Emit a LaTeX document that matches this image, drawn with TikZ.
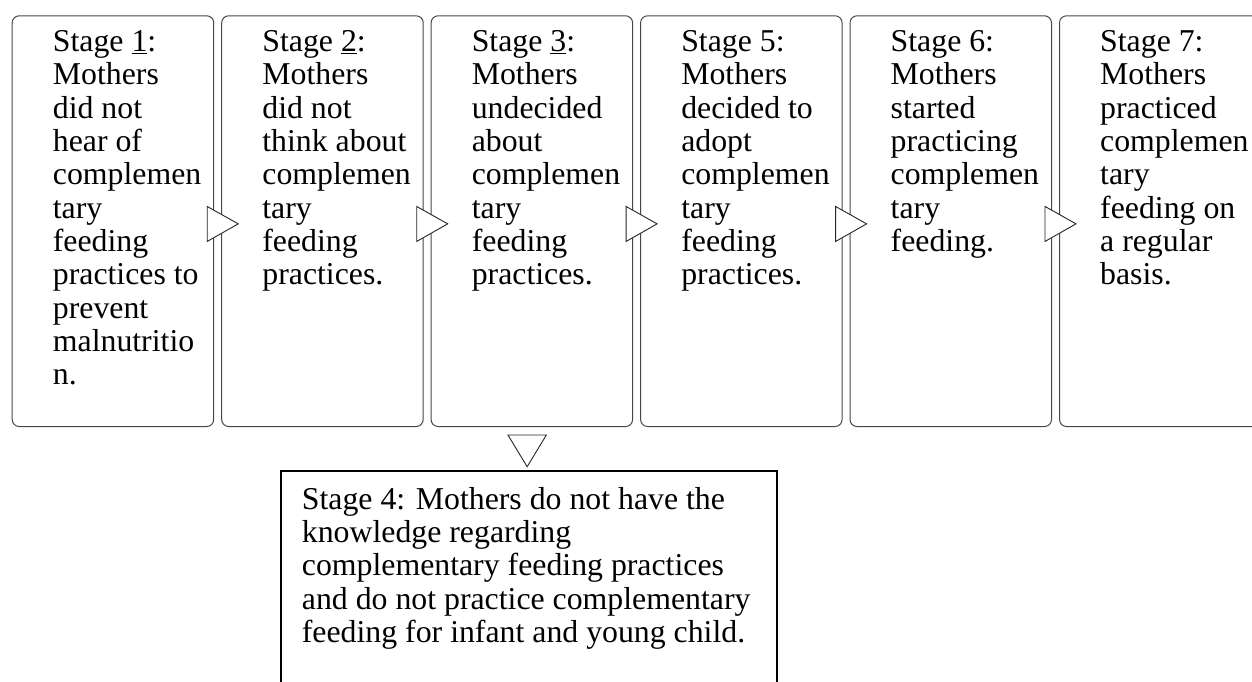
\documentclass[tikz,border=0pt]{standalone}
\usepackage{fontspec}
\setmainfont{Liberation Serif}
\usetikzlibrary{calc}
\tikzset{
  stagebox/.style={draw=black!72, line width=1pt, rounded corners=7pt, fill=white,
    minimum width=201.5pt, minimum height=410.7pt, inner sep=0pt, anchor=north west},
  stagetext/.style={anchor=north west, inner sep=0pt, align=left,
    font=\fontsize{31.8}{33.33}\selectfont},
  bottombox/.style={draw=black, line width=2pt, minimum width=496pt, minimum height=260pt,
    inner sep=0pt, anchor=north west},
  tri/.style={draw=black!85, line width=0.9pt, fill=white, line join=miter}
}
\begin{document}
\begin{tikzpicture}[x=1pt,y=-1pt]
\useasboundingbox (0,0) rectangle (1252,681);
\clip (0,0) rectangle (1252,681);
% top row boxes
\node[stagebox] (s1) at (11.7,15.3) {};
\node[stagebox] (s2) at (221.2,15.3) {};
\node[stagebox] (s3) at (430.6,15.3) {};
\node[stagebox] (s5) at (640.1,15.3) {};
\node[stagebox] (s6) at (849.5,15.3) {};
\node[stagebox] (s7) at (1059.0,15.3) {};
% bottom box
\node[bottombox] (s4) at (280,469.5) {};
% texts
\node[stagetext] (t1) at ($(s1.north west)+(41,15)$) {Stage \underline{1}:\\Mothers\\did not\\hear of\\complemen\\tary\\feeding\\practices to\\prevent\\malnutritio\\n.};
\node[stagetext] (t2) at ($(s2.north west)+(41,15)$) {Stage \underline{2}:\\Mothers\\did not\\think about\\complemen\\tary\\feeding\\practices.};
\node[stagetext] (t3) at ($(s3.north west)+(41,15)$) {Stage \underline{3}:\\Mothers\\undecided\\about\\complemen\\tary\\feeding\\practices.};
\node[stagetext] (t5) at ($(s5.north west)+(41,15)$) {Stage 5:\\Mothers\\decided to\\adopt\\complemen\\tary\\feeding\\practices.};
\node[stagetext] (t6) at ($(s6.north west)+(41,15)$) {Stage 6:\\Mothers\\started\\practicing\\complemen\\tary\\feeding.};
\node[stagetext] (t7) at ($(s7.north west)+(41,15)$) {Stage 7:\\Mothers\\practiced\\complemen\\tary\\feeding on\\a regular\\basis.};
\node[stagetext] (t4) at ($(s4.north west)+(21.7,17.5)$) {Stage 4: Mothers do not have the\\knowledge regarding\\complementary feeding practices\\and do not practice complementary\\feeding for infant and young child.};
% right-pointing triangles
\foreach \a in {s1,s2,s3,s5,s6}{
  \draw[tri] ($(\a.east)+(-7,-14.7)$) -- ($(\a.east)+(24,2.7)$) -- ($(\a.east)+(-7,20.3)$) -- cycle;
}
% down-pointing triangle from stage 3 to stage 4
\draw[tri] ($(s3.south)+(-23.9,8)$) -- ($(s3.south)+(14.5,8)$) -- ($(s3.south)+(-4.7,39.7)$) -- cycle;
\end{tikzpicture}
\end{document}
